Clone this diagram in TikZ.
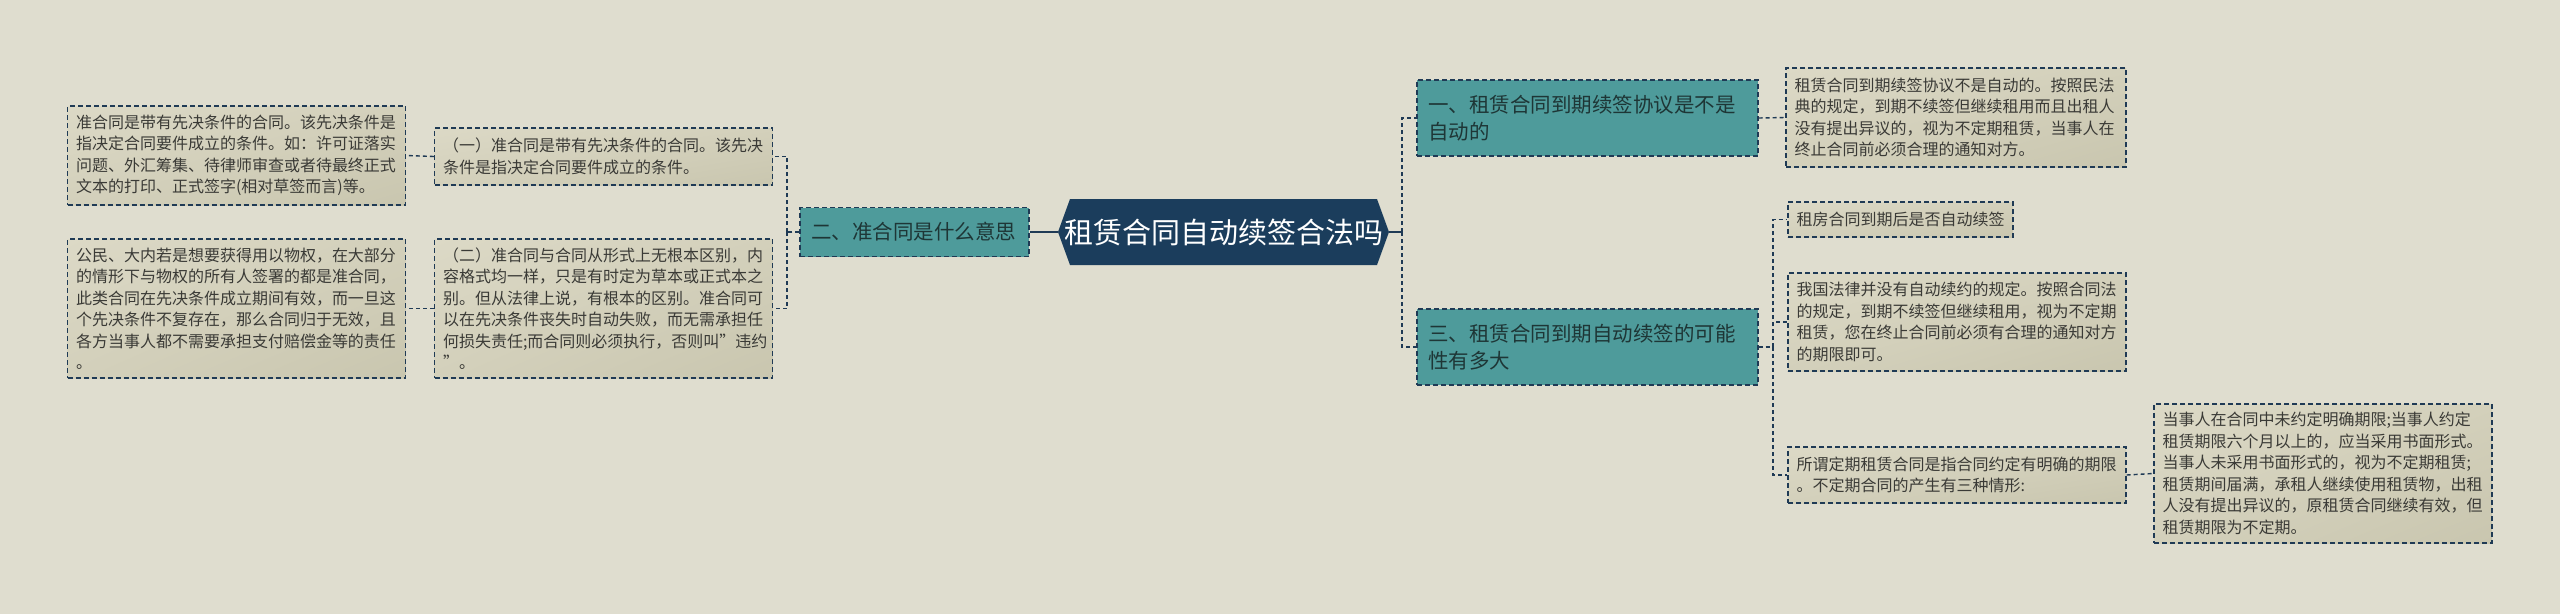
\documentclass[tikz,border=0pt]{standalone}
\usepackage{fontspec}
\setmainfont{Noto Sans CJK SC}
\usetikzlibrary{shadings}
\definecolor{bgc}{HTML}{DFDDCF}
\definecolor{edgec}{HTML}{1F3A55}
\definecolor{rootc}{HTML}{1B3D5C}
\definecolor{tealc}{HTML}{4E9B9B}
\definecolor{leafA}{HTML}{DCD9C6}
\definecolor{leafB}{HTML}{C9C6AF}
\definecolor{leafM}{HTML}{D3D0BB}
\definecolor{leaftext}{HTML}{3A3A36}
\definecolor{tealtext}{HTML}{1E3636}
\tikzset{
  boxline/.style={draw=edgec, line width=1.3pt, dash pattern=on 5pt off 3pt},
  leaf/.style={boxline, upper left=leafA, upper right=leafM, lower left=leafM, lower right=leafB,
    inner xsep=8.5pt, inner ysep=0pt, align=left, anchor=center,
    font=\fontsize{16}{21.5}\selectfont, text=leaftext},
  tealbox/.style={boxline, fill=tealc, inner xsep=11pt, inner ysep=0pt, align=left, anchor=center,
    font=\fontsize{20.5}{27}\selectfont, text=tealtext},
  rootbox/.style={inner sep=0pt, anchor=center, font=\fontsize{29}{34}\selectfont, text=white},
  conn/.style={draw=edgec, line width=1.4pt, dash pattern=on 4pt off 3pt},
  rootconn/.style={draw=edgec, line width=2.2pt}
}
\begin{document}
\begin{tikzpicture}[x=1pt,y=-1pt]
\fill[bgc] (0,0) rectangle (2560,614);

% root
\fill[rootc] (1058,232) -- (1070,199) -- (1377,199) -- (1389,232) -- (1377,265) -- (1070,265) -- cycle;
\node[rootbox, minimum width=331pt, minimum height=66pt] (root) at (1223.5,232) {租赁合同自动续签合法吗};

% level 1
\node[tealbox, text width=207pt, minimum height=49pt] (t2) at (914.5,232) {二、准合同是什么意思};
\node[tealbox, text width=319pt, minimum height=76pt] (t1) at (1587.5,118) {一、租赁合同到期续签协议是不是\\自动的};
\node[tealbox, text width=319pt, minimum height=76pt] (t3) at (1587.5,347) {三、租赁合同到期自动续签的可能\\性有多大};

% left leaves
\node[leaf, text width=321pt, minimum height=57pt] (L1) at (603.5,156.5) {（一）准合同是带有先决条件的合同。该先决\\条件是指决定合同要件成立的条件。};
\node[leaf, text width=321pt, minimum height=99pt] (L1a) at (236.5,155.5) {准合同是带有先决条件的合同。该先决条件是\\指决定合同要件成立的条件。如：许可证落实\\问题、外汇筹集、待律师审查或者待最终正式\\文本的打印、正式签字(相对草签而言)等。};
\node[leaf, text width=321pt, minimum height=139pt] (L2) at (603.5,308.5) {（二）准合同与合同从形式上无根本区别，内\\容格式均一样，只是有时定为草本或正式本之\\别。但从法律上说，有根本的区别。准合同可\\以在先决条件丧失时自动失败，而无需承担任\\何损失责任;而合同则必须执行，否则叫"违约\\"。};
\node[leaf, text width=321pt, minimum height=139pt] (L2a) at (236.5,308.5) {公民、大内若是想要获得用以物权，在大部分\\的情形下与物权的所有人签署的都是准合同，\\此类合同在先决条件成立期间有效，而一旦这\\个先决条件不复存在，那么合同归于无效，且\\各方当事人都不需要承担支付赔偿金等的责任\\。};

% right leaves
\node[leaf, text width=323pt, minimum height=99pt] (R1) at (1956,117.5) {租赁合同到期续签协议不是自动的。按照民法\\典的规定，到期不续签但继续租用而且出租人\\没有提出异议的，视为不定期租赁，当事人在\\终止合同前必须合理的通知对方。};
\node[leaf, text width=208pt, minimum height=35pt] (R3a) at (1900.5,219.5) {租房合同到期后是否自动续签};
\node[leaf, text width=321pt, minimum height=98pt] (R3b) at (1957,322) {我国法律并没有自动续约的规定。按照合同法\\的规定，到期不续签但继续租用，视为不定期\\租赁，您在终止合同前必须有合理的通知对方\\的期限即可。};
\node[leaf, text width=321pt, minimum height=56pt] (R3c) at (1957,475) {所谓定期租赁合同是指合同约定有明确的期限\\。不定期合同的产生有三种情形:};
\node[leaf, text width=321pt, minimum height=139pt] (R3d) at (2323,473.5) {当事人在合同中未约定明确期限;当事人约定\\租赁期限六个月以上的，应当采用书面形式。\\当事人未采用书面形式的，视为不定期租赁;\\租赁期间届满，承租人继续使用租赁物，出租\\人没有提出异议的，原租赁合同继续有效，但\\租赁期限为不定期。};

% junctions
\coordinate (jl) at (787,232);
\coordinate (jr) at (1402,232);
\coordinate (j3) at (1773,347);

% connectors
\draw[rootconn] (root.west) -- (t2.east);
\draw[rootconn] (root.east) -- (jr);
\draw[conn] (jr) |- (t1.west);
\draw[conn] (jr) |- (t3.west);
\draw[conn] (t2.west) -- (jl);
\draw[conn] (jl) |- (L1.east);
\draw[conn] (jl) |- (L2.east);
\draw[conn] (L1.west) -- (L1a.east);
\draw[conn] (L2.west) -- (L2a.east);
\draw[conn] (t1.east) -- (R1.west);
\draw[conn] (t3.east) -- (j3);
\draw[conn] (j3) |- (R3a.west);
\draw[conn] (j3) |- (R3b.west);
\draw[conn] (j3) |- (R3c.west);
\draw[conn] (R3c.east) -- (R3d.west);
\end{tikzpicture}
\end{document}
